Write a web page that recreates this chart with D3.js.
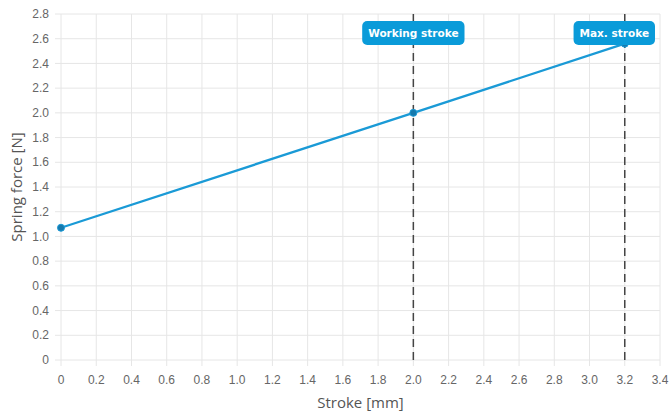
<!DOCTYPE html>
<html>
<head>
<meta charset="utf-8">
<script src="https://cdn.jsdelivr.net/npm/d3@7"></script>
<style>
  body { margin: 0; background: #fff; }
</style>
</head>
<body>
<div id="chart"></div>
<script>
const strokes = [0, 2.0, 3.2];
const forces = [1.07, 2.0, 2.56];
const markers = [
  { x: 2.0, label: "Working stroke" },
  { x: 3.2, label: "Max. stroke" }
];
const xTicks = d3.range(0, 3.41, 0.2);
const yTicks = d3.range(0, 2.81, 0.2);

const width = 672, height = 414;
const margin = { top: 14, right: 12, bottom: 54, left: 61 };

const x = d3.scaleLinear().domain([0, 3.4]).range([margin.left, width - margin.right]);
const y = d3.scaleLinear().domain([0, 2.8]).range([height - margin.bottom, margin.top]);

const svg = d3.select("#chart")
  .append("svg")
  .attr("width", width)
  .attr("height", height);

// grid
svg.append("g")
  .selectAll("line")
  .data(xTicks)
  .join("line")
  .attr("x1", d => x(d)).attr("x2", d => x(d))
  .attr("y1", margin.top).attr("y2", height - margin.bottom + 6)
  .attr("stroke", "#e6e6e6");

svg.append("g")
  .selectAll("line")
  .data(yTicks)
  .join("line")
  .attr("x1", margin.left - 6).attr("x2", width - margin.right)
  .attr("y1", d => y(d)).attr("y2", d => y(d))
  .attr("stroke", "#e6e6e6");

// tick labels
const fmtY = d => d === 0 ? "0" : d3.format(".1f")(d);
svg.append("g")
  .selectAll("text")
  .data(yTicks)
  .join("text")
  .attr("x", margin.left - 12)
  .attr("y", d => y(d))
  .attr("dy", "0.35em")
  .attr("text-anchor", "end")
  .attr("font-family", "Liberation Sans, Arial, sans-serif")
  .attr("font-size", 12)
  .attr("fill", "#666")
  .text(fmtY);

svg.append("g")
  .selectAll("text")
  .data(xTicks)
  .join("text")
  .attr("x", d => x(d))
  .attr("y", height - margin.bottom + 24)
  .attr("text-anchor", "middle")
  .attr("font-family", "Liberation Sans, Arial, sans-serif")
  .attr("font-size", 12)
  .attr("fill", "#666")
  .text(fmtY);

// axis titles
svg.append("text")
  .attr("x", (margin.left + width - margin.right) / 2)
  .attr("y", height - 6)
  .attr("text-anchor", "middle")
  .attr("font-family", "Open Sans, sans-serif")
  .attr("font-size", 15)
  .attr("fill", "#555")
  .text("Stroke [mm]");

svg.append("text")
  .attr("transform", `translate(22,${(margin.top + height - margin.bottom) / 2}) rotate(-90)`)
  .attr("text-anchor", "middle")
  .attr("font-family", "Open Sans, sans-serif")
  .attr("font-size", 15)
  .attr("fill", "#555")
  .text("Spring force [N]");

// line
const pts = strokes.map((s, i) => [s, forces[i]]);
svg.append("path")
  .datum(pts)
  .attr("fill", "none")
  .attr("stroke", "#1a9ad6")
  .attr("stroke-width", 2.3)
  .attr("d", d3.line().x(d => x(d[0])).y(d => y(d[1])));

// marker lines
svg.append("g")
  .selectAll("line")
  .data(markers)
  .join("line")
  .attr("x1", d => x(d.x)).attr("x2", d => x(d.x))
  .attr("y1", margin.top).attr("y2", height - margin.bottom)
  .attr("stroke", "#444")
  .attr("stroke-width", 1.5)
  .attr("stroke-dasharray", "8,5");

// points
svg.append("g")
  .selectAll("circle")
  .data(pts)
  .join("circle")
  .attr("cx", d => x(d[0]))
  .attr("cy", d => y(d[1]))
  .attr("r", 3.5)
  .attr("fill", "#1679ad")
  .attr("stroke", "#1a9ad6")
  .attr("stroke-width", 1);

// labels
const lab = svg.append("g")
  .selectAll("g")
  .data(markers)
  .join("g");

lab.each(function(d) {
  const g = d3.select(this);
  const t = g.append("text")
    .attr("font-family", "DejaVu Sans, sans-serif")
    .attr("font-weight", "bold")
    .attr("font-size", 10.5)
    .attr("fill", "#fff")
    .attr("text-anchor", "middle")
    .attr("dy", "0.35em")
    .text(d.label);
  const w = t.node().getComputedTextLength() + 12;
  let cx = x(d.x);
  const maxRight = width - margin.right - 5;
  if (cx + w / 2 > maxRight) cx = maxRight - w / 2;
  const cy = 33;
  g.insert("rect", "text")
    .attr("x", cx - w / 2)
    .attr("y", cy - 12)
    .attr("width", w)
    .attr("height", 24)
    .attr("rx", 5)
    .attr("fill", "#0a9bd9");
  t.attr("x", cx).attr("y", cy);
});
</script>
</body>
</html>
